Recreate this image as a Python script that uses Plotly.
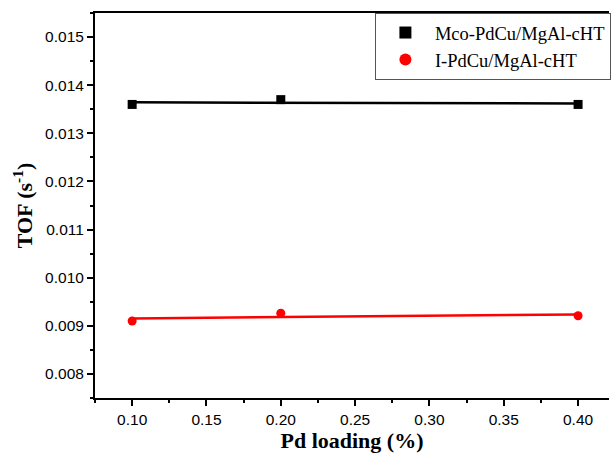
import numpy as np
import plotly.graph_objects as go

pd_loading = [0.10, 0.20, 0.40]
tof_mco = [0.01360, 0.01370, 0.01360]
tof_imp = [0.00910, 0.00926, 0.00921]
names = ["Mco-PdCu/MgAl-cHT", "I-PdCu/MgAl-cHT"]
colors = ["black", "#ff0000"]
symbols = ["square", "circle"]

fig = go.Figure()
for ys, name, col, sym in zip([tof_mco, tof_imp], names, colors, symbols):
    x = np.array(pd_loading)
    k, b = np.polyfit(x, np.array(ys), 1)
    xf = np.array([x.min(), x.max()])
    fig.add_trace(go.Scatter(x=xf, y=k * xf + b, mode="lines",
                             line=dict(color=col, width=2.5), showlegend=False,
                             hoverinfo="skip"))
    fig.add_trace(go.Scatter(x=pd_loading, y=ys, mode="markers", name=name,
                             marker=dict(symbol=sym, size=9, color=col)))

axis_common = dict(showgrid=False, zeroline=False, showline=True, linecolor="black",
                   linewidth=2, ticks="outside", ticklen=6, tickwidth=1.5,
                   tickcolor="black", automargin=False,
                   tickfont=dict(family="Liberation Sans, Arial", size=15.5, color="black"),
                   minor=dict(ticks="outside", ticklen=3, tickwidth=1.5, tickcolor="black"))

fig.update_layout(
    width=611, height=455,
    margin=dict(l=95, r=0, t=13, b=57),
    plot_bgcolor="white", paper_bgcolor="white",
    xaxis=dict(range=[0.075, 0.4208], tickvals=[0.10, 0.15, 0.20, 0.25, 0.30, 0.35, 0.40],
               ticktext=["0.10", "0.15", "0.20", "0.25", "0.30", "0.35", "0.40"],
               mirror=True,
               title=dict(text="<b>Pd loading (%)</b>", standoff=1,
                          font=dict(family="Liberation Serif, Times New Roman", size=22, color="black")),
               **axis_common),
    yaxis=dict(range=[0.0075, 0.0155], dtick=0.001, tickformat=".3f", mirror=False,
               title=dict(text="<b>TOF (s<sup>-1</sup>)</b>", standoff=6,
                          font=dict(family="Liberation Serif, Times New Roman", size=22, color="black")),
               **axis_common),
    legend=dict(x=(376 - 95) / 516, y=1, xanchor="left", yanchor="top",
                bgcolor="white", bordercolor="#555555", borderwidth=1,
                font=dict(family="Liberation Serif, Times New Roman", size=18.5, color="black"),
                tracegroupgap=0, itemsizing="constant", itemwidth=49),
)
fig.update_xaxes(minor=dict(tickvals=[0.075, 0.125, 0.175, 0.225, 0.275, 0.325, 0.375]))
fig.update_yaxes(minor=dict(dtick=0.0005))

fig.write_html("out.html", config={"displayModeBar": False},
               post_script="document.body.style.margin='0';document.body.style.overflow='hidden';")
